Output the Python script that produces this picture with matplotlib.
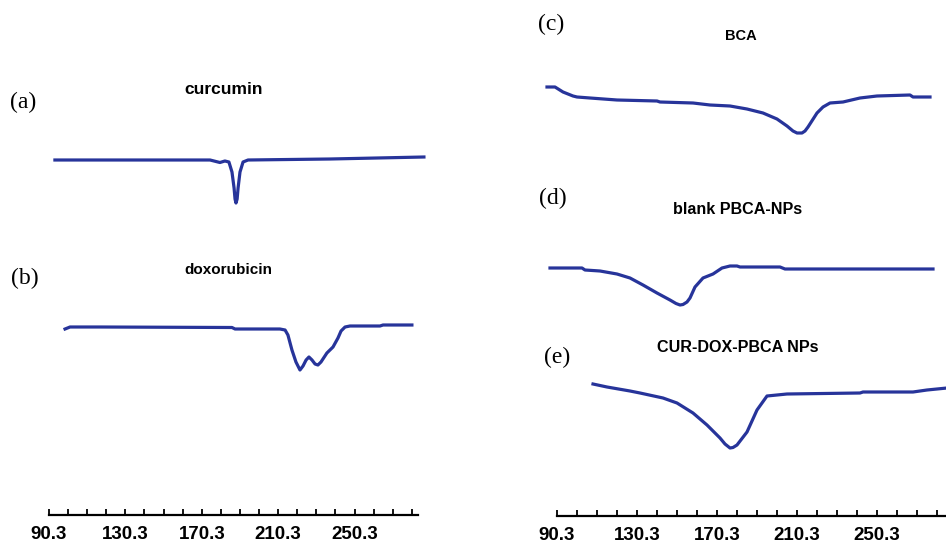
import numpy as np
import matplotlib
matplotlib.use("Agg")
import matplotlib.pyplot as plt
from matplotlib.ticker import FixedLocator

# temperature axis ticks
tick_vals = [90.3, 130.3, 170.3, 210.3, 250.3]
tick_labels = ["90.3", "130.3", "170.3", "210.3", "250.3"]

# (a) curcumin
cur_t = [93.4, 143.2, 174.6, 179.8, 182.4, 184.5, 186.1, 187.2, 187.7, 188.2, 188.8,
         189.3, 190.3, 191.9, 194.5, 237.4, 286.6]
cur_hf = [0, 0, 0, -2.5, -1, -2, -12, -28, -39, -43, -39, -28, -12, -2, 0, 1, 3]

# (b) doxorubicin
dox_t = [98.7, 101.3, 117.0, 186.1, 187.7, 211.2, 213.9, 215.4, 217.5, 219.6, 221.7,
         223.3, 224.9, 226.4, 228.0, 229.6, 231.1, 232.7, 235.8, 239.0, 241.6, 243.2,
         245.3, 247.9, 263.6, 265.2, 280.3]
dox_hf = [-1, 1, 1, 0.5, -1, -1, -2, -7, -22, -34, -42, -38, -32, -29, -32, -36, -37,
          -34, -25, -19, -10, -3, 1, 2, 2, 3, 3]

# (c) BCA
bca_t = [85.3, 89.3, 93.3, 98.3, 100.3, 106.8, 120.3, 140.3, 141.8, 158.3, 166.8, 176.8,
         185.3, 193.3, 200.3, 205.3, 208.3, 210.3, 212.8, 214.3, 215.8, 220.3, 223.3,
         226.8, 233.3, 241.8, 250.3, 266.8, 268.3, 276.8]
bca_hf = [13, 13, 8, 4, 3, 2, 0, -1, -2, -3, -5, -6, -9, -13, -19, -26, -31, -33, -33,
          -31, -27, -13, -7, -3, -2, 2, 4, 5, 3, 3]

# (d) blank PBCA-NPs
blank_t = [86.8, 102.8, 104.3, 111.8, 120.3, 126.8, 133.3, 140.3, 146.8, 149.8, 151.8,
           153.3, 155.3, 156.8, 159.3, 163.3, 168.3, 172.8, 176.8, 180.3, 181.8, 201.8,
           204.3, 231.8, 278.3]
blank_hf = [0, 0, -2, -3, -6, -10, -17, -25, -32, -35.5, -37, -36.5, -34, -30, -19, -10,
            -6, 0, 2, 2, 1, 1, -1, -1, -1]

# (e) CUR-DOX-PBCA NPs
np_t = [108.3, 115.3, 126.8, 131.8, 143.3, 150.3, 158.3, 165.3, 171.8, 174.3, 176.8,
        178.3, 180.3, 185.3, 190.3, 195.3, 205.3, 241.8, 243.3, 268.3, 275.3, 285.3]
np_hf = [9, 6, 2, 0, -5, -10, -20, -32, -45, -51, -55, -54.5, -52, -39, -17, -3, -1, 0,
         1, 1, 3, 5]

W, H = 946, 545
fig = plt.figure(figsize=(W / 100, H / 100), dpi=100)
line_col = "#27349a"

def make_axes(x0, x1, y_axis, xlim, x_end):
    ax = fig.add_axes([x0 / W, 1 - y_axis / H, (x1 - x0) / W, y_axis / H])
    ax.set_xlim(*xlim)
    ax.set_ylim(0, y_axis)
    for s in ["left", "right", "top"]:
        ax.spines[s].set_visible(False)
    ax.spines["bottom"].set_bounds(90.3, x_end)
    ax.spines["bottom"].set_linewidth(1.6)
    ax.set_yticks([])
    ax.xaxis.set_major_locator(FixedLocator(tick_vals))
    ax.set_xticklabels(tick_labels, fontfamily="Liberation Sans", fontweight="bold",
                       fontsize=13.5)
    ax.xaxis.set_minor_locator(FixedLocator([90.3 + 10 * i for i in range(20)]))
    ax.tick_params(axis="x", which="both", direction="in", length=4, width=1.3, pad=8)
    ax.patch.set_alpha(0)
    return ax

axL = make_axes(40, 430, 515, (85.59, 289.78), 283.5)
axR = make_axes(540, 946, 516, (81.8, 284.8), 284.8)

lw = 2.3
axL.plot(cur_t, np.array(cur_hf) + 355, color=line_col, lw=lw, clip_on=False)
axL.plot(dox_t, np.array(dox_hf) + 187, color=line_col, lw=lw, clip_on=False)
axR.plot(bca_t, np.array(bca_hf) + 416, color=line_col, lw=lw)
axR.plot(blank_t, np.array(blank_hf) + 248, color=line_col, lw=lw)
axR.plot(np_t, np.array(np_hf) + 123, color=line_col, lw=lw)

def ftext(x, y, s, **kw):
    fig.text(x / W, 1 - y / H, s, ha="center", va="center", **kw)

serif = dict(fontfamily="Liberation Serif", fontsize=17)
ftext(23, 102, "(a)", **serif)
ftext(25, 278, "(b)", **serif)
ftext(551, 24, "(c)", **serif)
ftext(553, 198, "(d)", **serif)
ftext(557, 357, "(e)", **serif)

sans = dict(fontfamily="Liberation Sans", fontweight="bold")
ftext(224, 90, "curcumin", fontsize=12.5, **sans)
ftext(228, 270, "doxorubicin", fontsize=11, **sans)
ftext(741, 36, "BCA", fontsize=10.5, **sans)
ftext(738, 210, "blank PBCA-NPs", fontsize=11.6, **sans)
ftext(738, 348, "CUR-DOX-PBCA NPs", fontsize=11.6, **sans)

fig.savefig("out.png", dpi=100)
